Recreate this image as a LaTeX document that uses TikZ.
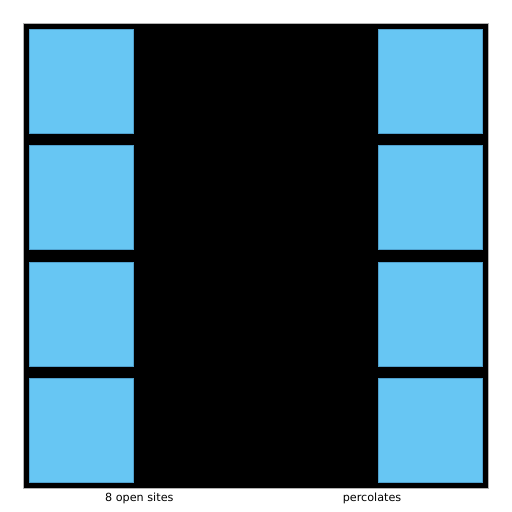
\documentclass[tikz,border=0pt]{standalone}
\usepackage{fontspec}
\setmainfont{DejaVu Sans}
\definecolor{bookblue}{RGB}{103,198,243}
\definecolor{blueedge}{RGB}{80,160,205}
\begin{document}
\begin{tikzpicture}[x=1pt,y=-1pt,
  site/.style={fill=bookblue,draw=blueedge,line width=0.5pt},
  lbl/.style={font=\fontsize{11.2}{13}\selectfont,anchor=center,inner sep=0pt}]
\useasboundingbox (0,0) rectangle (512,512);
\def\cs{116.35}
\fill[black] (23,23) rectangle (488.4,488.4);
\draw[gray!60,line width=0.4pt] (23,23) rectangle (488.4,488.4);
\foreach \c in {0,3}{
  \foreach \r in {0,1,2,3}{
    \pgfmathsetmacro{\cx}{23+(\c+0.5)*\cs}
    \pgfmathsetmacro{\cy}{23+(\r+0.5)*\cs}
    \node[site,minimum size=104.2pt,inner sep=0pt,outer sep=0pt,rectangle] (s\c\r) at (\cx,\cy) {};
  }
}
\node[lbl] (left) at (139.35,498.5) {8 open sites};
\node[lbl] (right) at (372.05,498.5) {percolates};
\end{tikzpicture}
\end{document}
